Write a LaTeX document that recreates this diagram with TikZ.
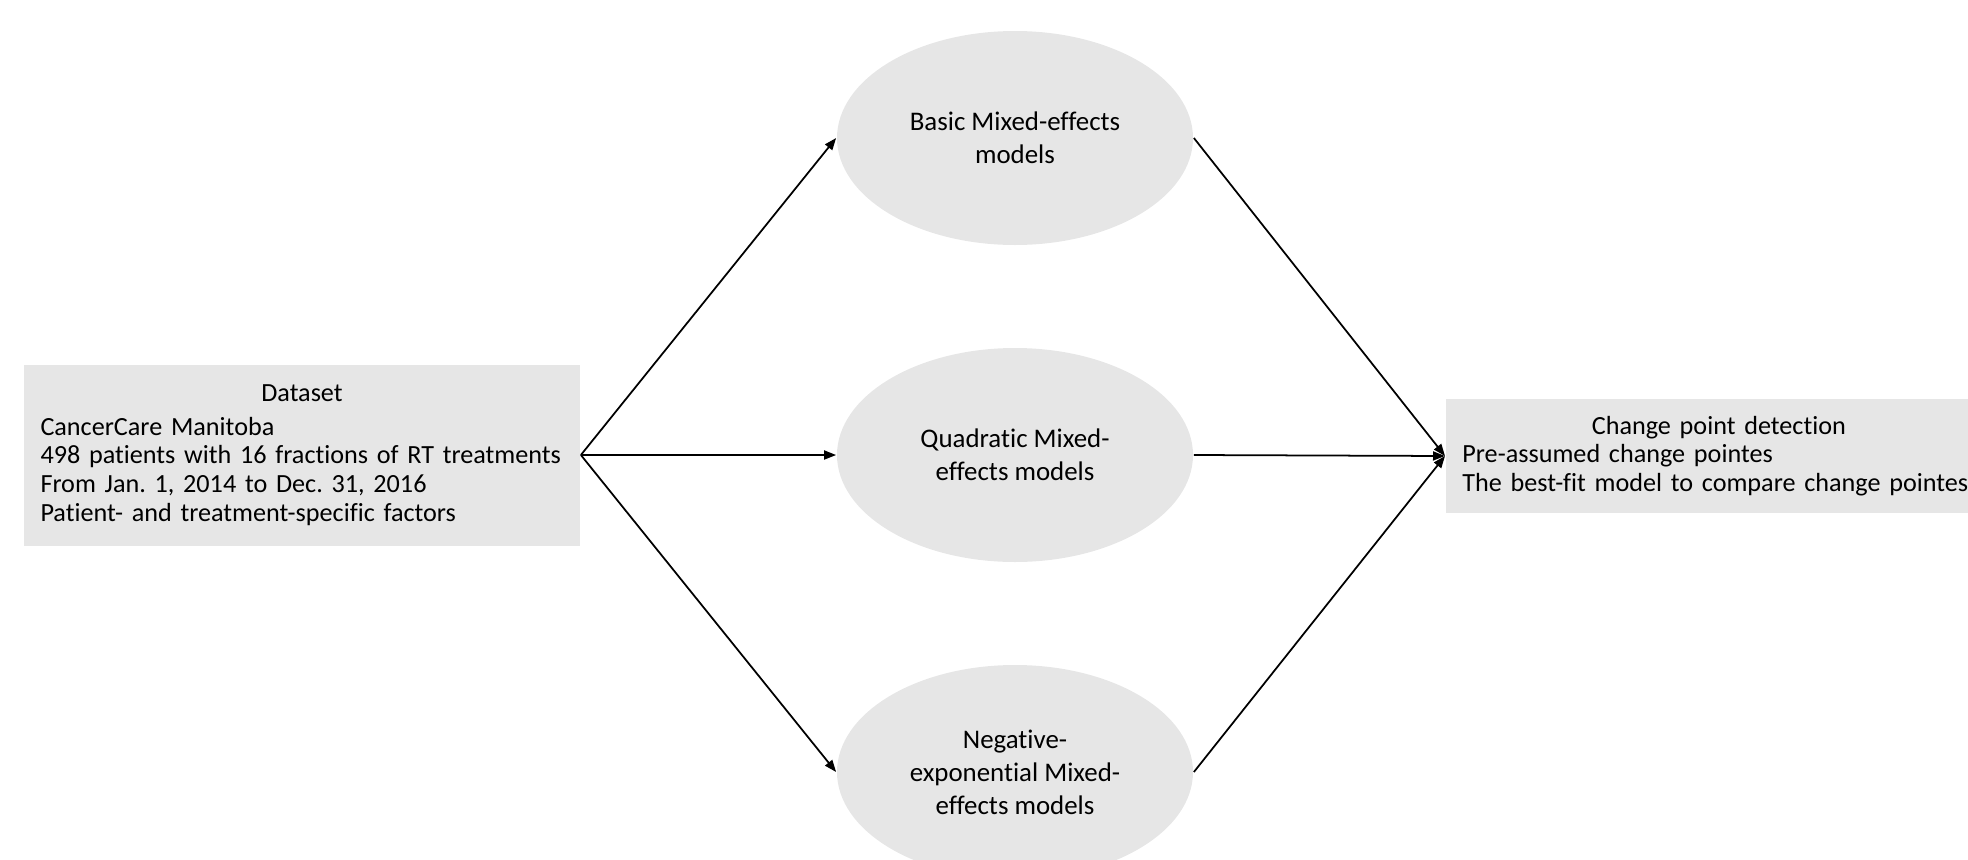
\documentclass[tikz,border=0pt]{standalone}
\usepackage{fontspec}
\setmainfont{Carlito}[Ligatures=CommonOff]
\usetikzlibrary{arrows.meta,positioning,shapes.geometric}
\definecolor{boxgray}{RGB}{230,230,230}
\tikzset{%
  >={Triangle[width=1.8mm,length=2.4mm]},
  % Specifications for style of nodes:
         base/.style = {draw=none, fill=boxgray, inner sep=0pt,
                        font=\fontsize{14.9}{16.4}\selectfont},
      infobox/.style = {base, rectangle, inner xsep=0.33cm},
        model/.style = {base, ellipse, minimum width=7.12cm,
                        minimum height=4.28cm, align=center,
                        font=\fontsize{15.3}{18.8}\selectfont},
}

\begin{document}
\frenchspacing
\begin{tikzpicture}[node distance=6.34cm, line width=1pt]
    \useasboundingbox (0,0) rectangle (39.36,-17.2);

    \node (dataset) [infobox, text width=10.46cm, minimum height=3.62cm]
        at (6.04,-9.10)
        {{\centering Dataset\par}\vspace{3pt}
         \raggedright CancerCare Manitoba\\
         498 patients with 16 fractions of RT treatments\\
         From Jan. 1, 2014 to Dec. 31, 2016\\
         Patient- and treatment-specific factors};

    \node (quadratic)   [model] at (20.30,-9.10)     {Quadratic Mixed-\\effects models};
    \node (basic)       [model, above of=quadratic]  {Basic Mixed-effects\\models};
    \node (negexp)      [model, below of=quadratic]  {Negative-\\exponential Mixed-\\effects models};

    \node (changepoint) [infobox, anchor=west, text width=10.26cm, minimum height=2.28cm]
        at (28.90,-9.12)
        {{\centering Change point detection\par}
         \raggedright Pre-assumed change pointes\\
         The best-fit model to compare change pointes};

    \draw[->]     (dataset.east) -- (basic.west);
    \draw[->]     (dataset.east) -- (quadratic.west);
    \draw[->]     (dataset.east) -- (negexp.west);
    \draw[->]     (basic.east) -- (changepoint.west);
    \draw[->]     (quadratic.east) -- (changepoint.west);
    \draw[->]     (negexp.east) -- (changepoint.west);

\end{tikzpicture}
\end{document}
